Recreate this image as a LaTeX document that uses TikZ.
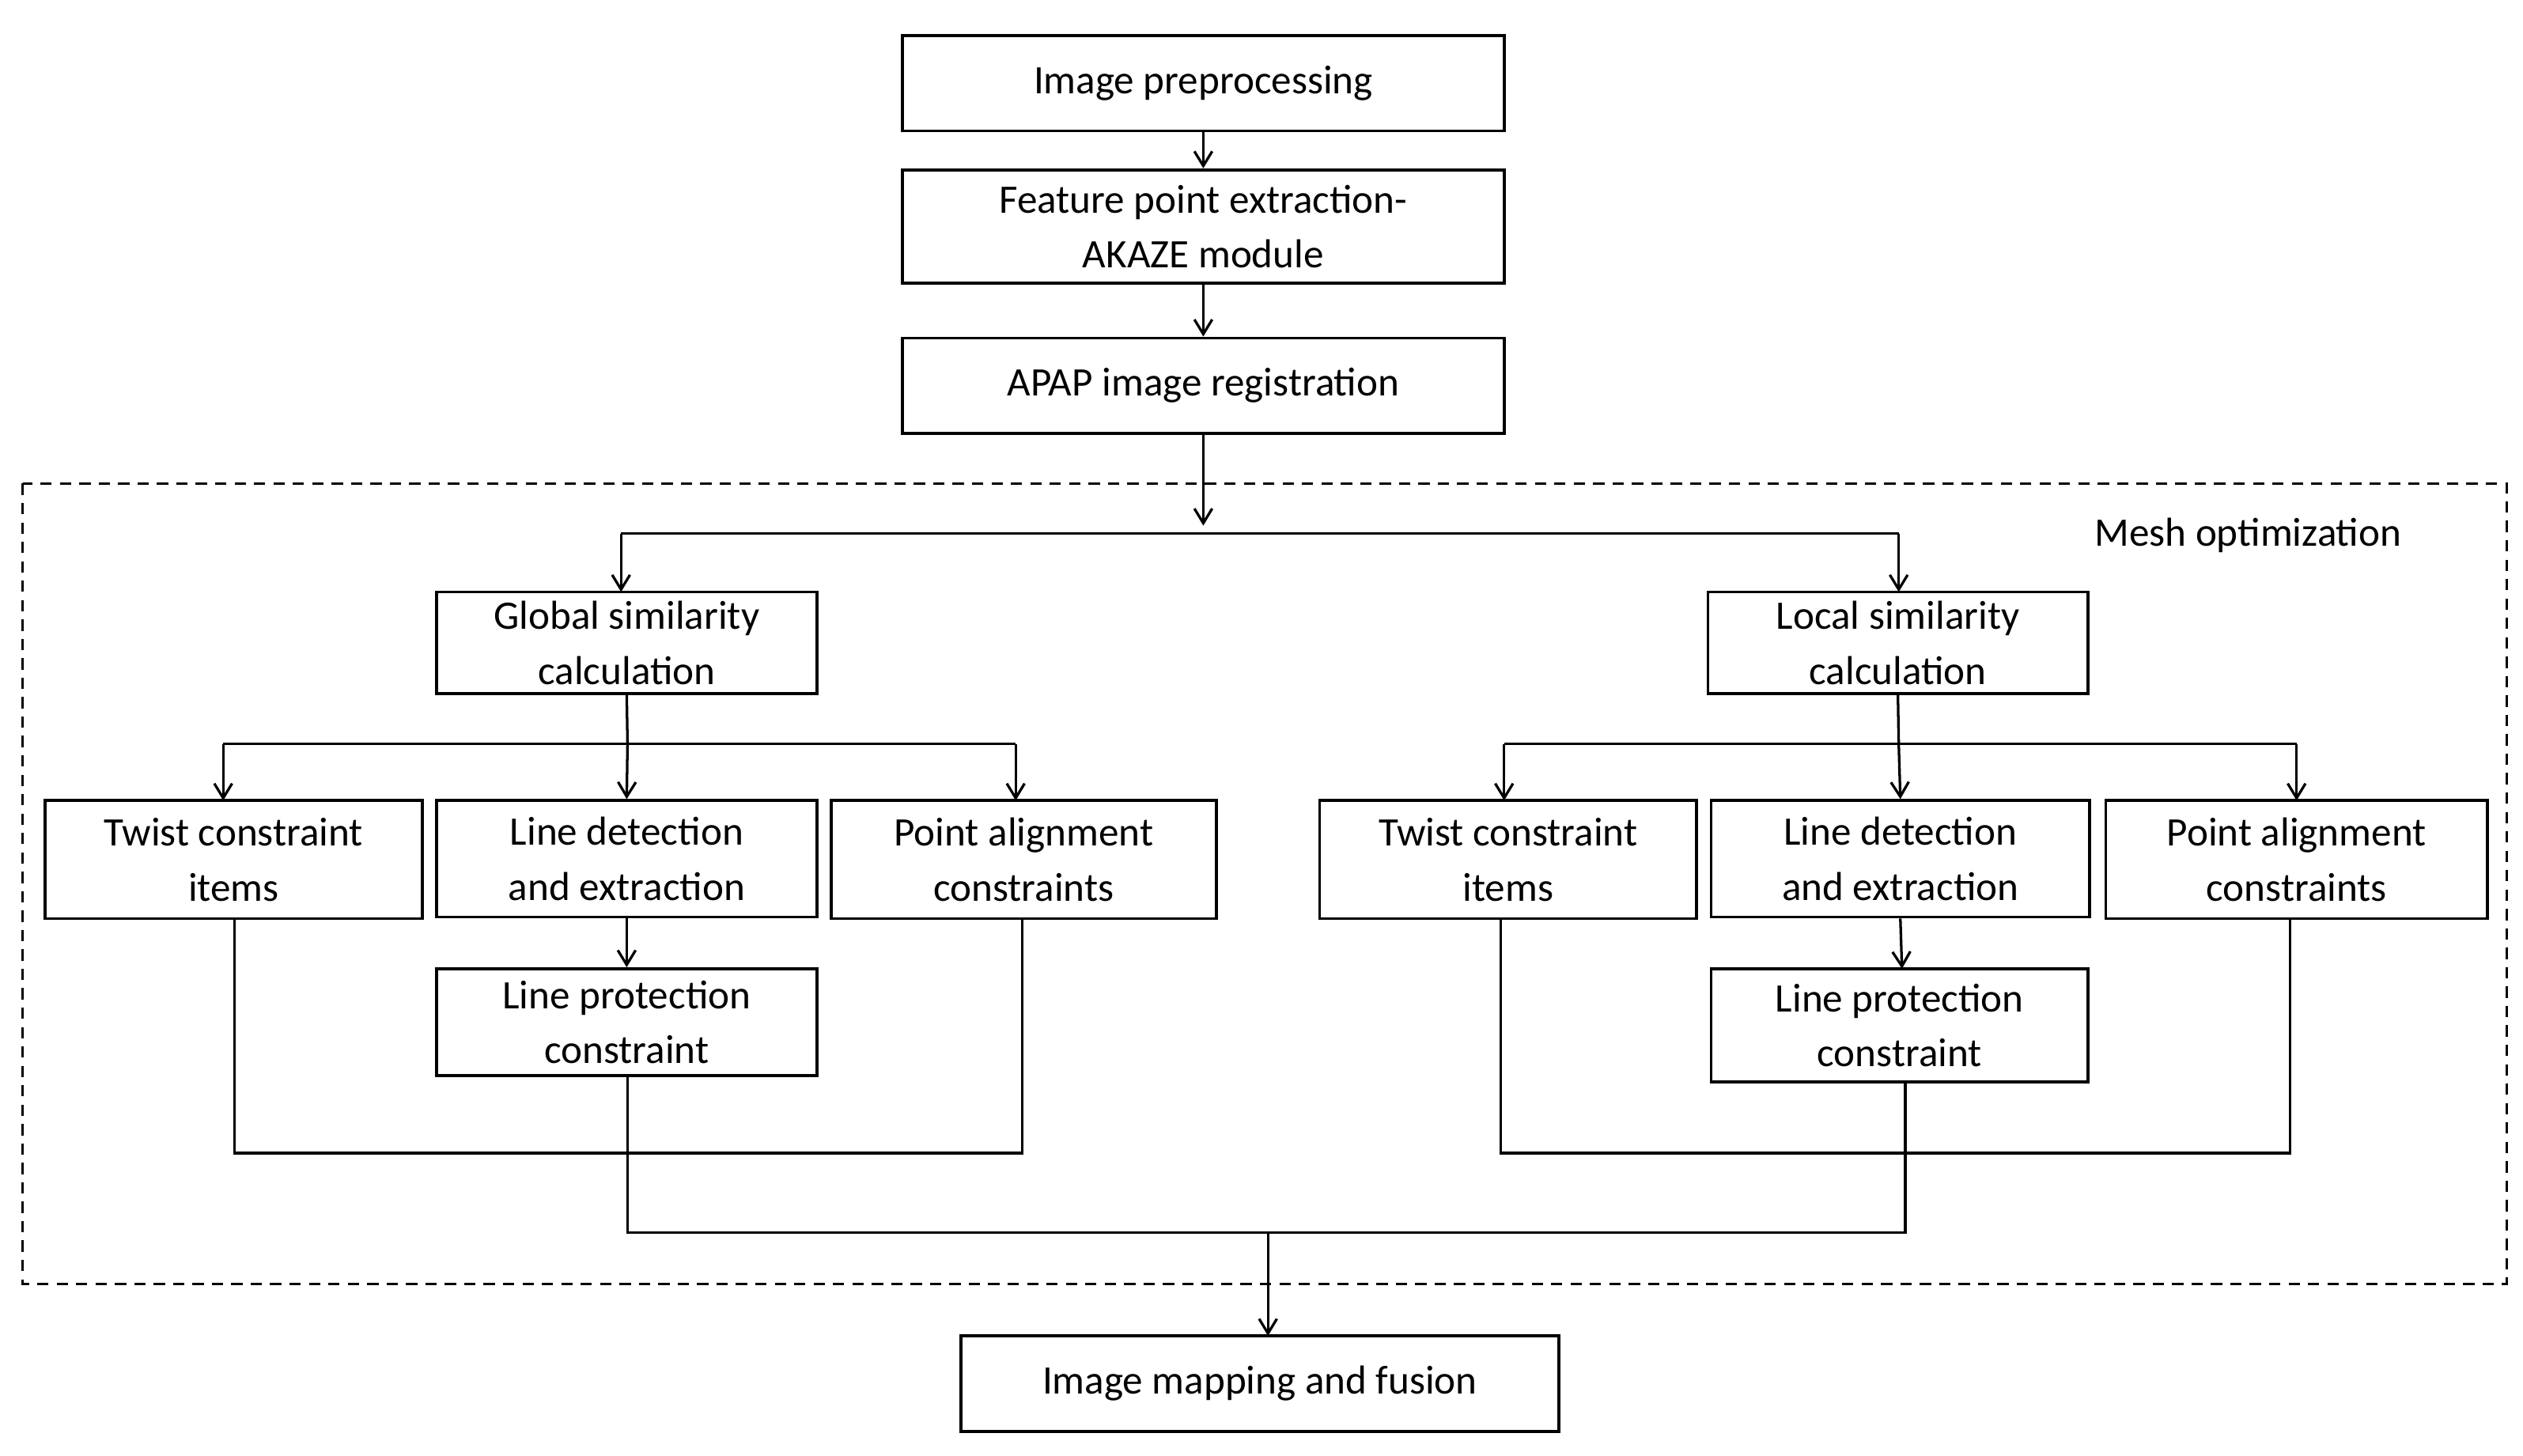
\documentclass[tikz,border=0pt]{standalone}
\usepackage{fontspec}
\setmainfont{Carlito}
\usetikzlibrary{arrows.meta}
\begin{document}
\begin{tikzpicture}[x=1pt,y=-1pt,
  box/.style={draw,line width=1.8pt,align=center,inner sep=0pt,font=\fontsize{25}{34}\selectfont},
  ln/.style={line width=1.6pt},
  ar/.style={ln,-{Straight Barb[length=9pt,width=11pt,line width=1.6pt]}}]
\useasboundingbox (0,0) rectangle (1560,900);
\newcommand{\bx}[6]{\node[box,minimum width=#4-#2,minimum height=#5-#3] (#1) at ({(#2+#4)/2},{(#3+#5)/2}) {#6};}
\bx{pre}{558}{22}{930}{81}{Image preprocessing}
\bx{fea}{558}{105}{930}{175}{Feature point extraction-\\AKAZE module}
\bx{apa}{558}{209}{930}{268}{APAP image registration}
\draw[ln,dashed,dash pattern=on 7pt off 5pt] (14,299) rectangle (1550,794);
\node[font=\fontsize{25}{30}\selectfont] (mesh) at (1390,331) {Mesh optimization};
\bx{glo}{270}{366}{505}{429}{Global similarity\\calculation}
\bx{loc}{1056}{366}{1291}{429}{Local similarity\\calculation}
\bx{tw1}{28}{495}{261}{568}{Twist constraint\\items}
\bx{ld1}{270}{495}{505}{567}{Line detection\\and extraction}
\bx{pa1}{514}{495}{752}{568}{Point alignment\\constraints}
\bx{lp1}{270}{599}{505}{665}{Line protection\\constraint}
\bx{tw2}{816}{495}{1049}{568}{Twist constraint\\items}
\bx{ld2}{1058}{495}{1292}{567}{Line detection\\and extraction}
\bx{pa2}{1302}{495}{1538}{568}{Point alignment\\constraints}
\bx{lp2}{1058}{599}{1291}{669}{Line protection\\constraint}
\bx{fin}{594}{826}{964}{885}{Image mapping and fusion}

\draw[ar] (pre) -- (fea);
\draw[ar] (fea) -- (apa);
\coordinate (s) at (744,330);
\draw[ar] (apa) -- (744,325);
\draw[ln] (384,330) -- (1174,330);
\draw[ar] (384,330) -- (384,366);
\draw[ar] (1174,330) -- (1174,366);
% left
\draw[ln] (glo.south) -- (388,460);
\draw[ln] (138,460) -- (628,460);
\draw[ar] (138,460) -- (138,495);
\draw[ar] (388,460) -- (ld1.north);
\draw[ar] (628,460) -- (628,495);
\draw[ar] (ld1) -- (lp1);
\draw[ln] (145,568) -- (145,713) -- (632,713) -- (632,568);
% right
\draw[ln] (loc.south) -- (1174,460);
\draw[ln] (930,460) -- (1420,460);
\draw[ar] (930,460) -- (930,495);
\draw[ar] (1174,460) -- (ld2.north);
\draw[ar] (1420,460) -- (1420,495);
\draw[ar] (ld2.south) -- (1176,599);
\draw[ln] (928,568) -- (928,713) -- (1416,713) -- (1416,568);
% merge
\draw[ln] (388,665) -- (388,762) -- (1178,762) -- (1178,669);
\draw[ar] (784,762) -- (784,826);
\end{tikzpicture}
\end{document}
